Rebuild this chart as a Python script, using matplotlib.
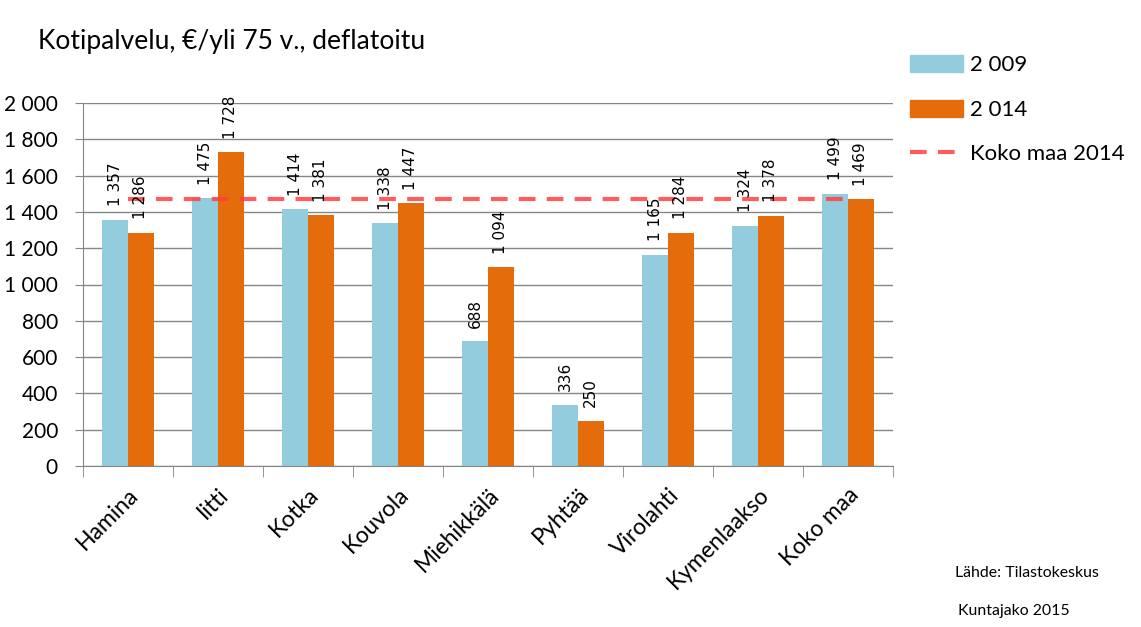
import numpy as np
import matplotlib.pyplot as plt
from matplotlib.patches import Patch
from matplotlib.lines import Line2D

kunnat = ['Hamina', 'Iitti', 'Kotka', 'Kouvola', 'Miehikkälä', 'Pyhtää',
          'Virolahti', 'Kymenlaakso', 'Koko maa']
v2009 = [1357, 1475, 1414, 1338, 688, 336, 1165, 1324, 1499]
v2014 = [1286, 1728, 1381, 1447, 1094, 250, 1284, 1378, 1469]
koko_maa_2014 = 1469

def fi_fmt(v):
    return f'{int(v):,}'.replace(',', ' ')

plt.rcParams['font.family'] = ['Lato', 'DejaVu Sans']

fig = plt.figure(figsize=(11.41, 6.27), dpi=100)
ax = fig.add_axes([83/1141, 1 - 466/627, 810/1141, 363/627])

x = np.arange(len(kunnat))
w = 0.285
blue = '#93CDDD'
orange = '#E46C0A'
red = '#FF4040'
b1 = ax.bar(x - w/2, v2009, w, color=blue, zorder=2)
b2 = ax.bar(x + w/2, v2014, w, color=orange, zorder=2)

ax.plot([x[0], x[-1]], [koko_maa_2014, koko_maa_2014], color=red, alpha=0.85,
        lw=3, dashes=(4, 2.7), zorder=3)

for bars, vals in ((b1, v2009), (b2, v2014)):
    for b, v in zip(bars, vals):
        ax.text(b.get_x() + b.get_width()/2, v + 75, fi_fmt(v), rotation=90,
                ha='center', va='bottom', fontsize=11, family='DejaVu Sans')

ax.set_xlim(-0.5, len(kunnat) - 0.5)
ax.set_ylim(0, 2000)
ax.set_yticks(np.arange(0, 2001, 200))
ax.set_yticklabels([fi_fmt(v) for v in np.arange(0, 2001, 200)], fontsize=15)
ax.set_xticks(x)
ax.set_xticklabels(kunnat, rotation=45, ha='right', rotation_mode='anchor', fontsize=16.5)
ax.set_xticks(np.arange(-0.5, len(kunnat)), minor=True)
ax.tick_params(axis='x', which='major', length=0, pad=13)
ax.tick_params(axis='x', which='minor', length=8, color='#868686')
ax.tick_params(axis='y', length=6, color='#868686', pad=12)
ax.yaxis.grid(True, color='#868686', lw=1)
ax.set_axisbelow(True)
for s in ('top', 'right'):
    ax.spines[s].set_visible(False)
for s in ('left', 'bottom'):
    ax.spines[s].set_color('#868686')

fig.text(38/1141, 1 - 42/627, 'Kotipalvelu, €/yli 75 v., deflatoitu', fontsize=19, va='center')

handles = [Patch(color=blue), Patch(color=orange),
           Line2D([], [], color=red, alpha=0.85, lw=3, dashes=(4, 2.7))]
fig.legend(handles, ['2 009', '2 014', 'Koko maa 2014'], loc='upper left',
           bbox_to_anchor=(901/1141, 1 - 46/627), frameon=False, fontsize=16,
           handlelength=2.4, handleheight=0.8, labelspacing=1.1, handletextpad=0.3,
           borderaxespad=0)

fig.text(955/1141, 1 - 573/627, 'Lähde: Tilastokeskus', fontsize=11.4, va='center')
fig.text(958/1141, 1 - 611/627, 'Kuntajako 2015', fontsize=11.4, va='center')

fig.savefig('out.png', dpi=100)
